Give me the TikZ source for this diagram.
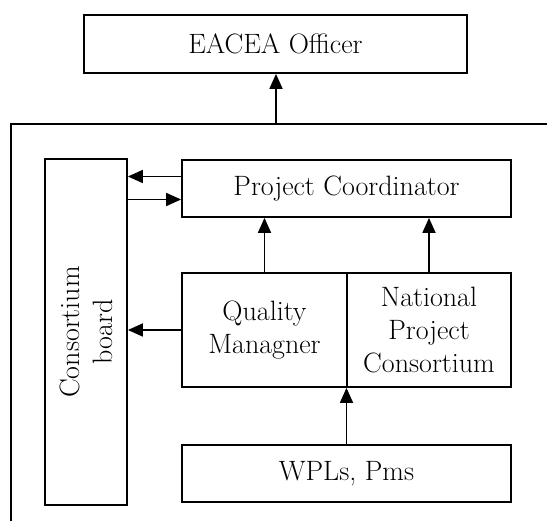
\documentclass[tikz,border=0pt]{standalone}
\usepackage{fontspec}
\usetikzlibrary{arrows.meta}

\tikzset{
  box/.style={draw, line width=1.8pt, inner sep=0pt, align=center,
    font=\fontsize{28}{33}\selectfont},
}

\begin{document}
\begin{tikzpicture}[x=1pt, y=-1pt, line width=1.8pt,
    >={Triangle[length=15pt, width=13pt]}]
  \useasboundingbox (0,0) rectangle (547,521);

  % boxes
  \node[box, minimum width=383pt, minimum height=58pt] (eacea) at (275.5,44) {EACEA Officer};
  \node[box, minimum width=82pt, minimum height=346pt] (board) at (86,332) {};
  \node[rotate=90, align=center, font=\fontsize{28}{33}\selectfont] (boardtxt) at (board.center) {Consortium\\board};
  \node[box, minimum width=329pt, minimum height=57pt] (pc) at (346.5,188.5) {Project Coordinator};
  \node[box, minimum width=165pt, minimum height=114pt] (qm) at (264.5,330) {Quality\\Managner};
  \node[box, minimum width=164pt, minimum height=114pt] (npc) at (429,330) {National\\Project\\Consortium};
  \node[box, minimum width=329pt, minimum height=57pt] (wpl) at (346.5,473.5) {WPLs, Pms};

  % open frame
  \draw (547,124) -- (11,124) -- (11,521);
  \coordinate (frametop) at (276,124);

  % arrows
  \draw[->] (frametop) -- (frametop |- eacea.south);
  \coordinate (pcout) at ([yshift=12pt]pc.west);
  \coordinate (pcin) at ([yshift=-11pt]pc.west);
  \draw[->] (pcout) -- (pcout -| board.east);
  \draw[->] (pcin -| board.east) -- (pcin);
  \draw[->] (qm.west) -- (qm.west -| board.east);
  \draw[->] (qm.north) -- (qm.north |- pc.south);
  \draw[->] (npc.north) -- (npc.north |- pc.south);
  \draw[->] (wpl.north) -- (wpl.north |- qm.south);
\end{tikzpicture}
\end{document}
